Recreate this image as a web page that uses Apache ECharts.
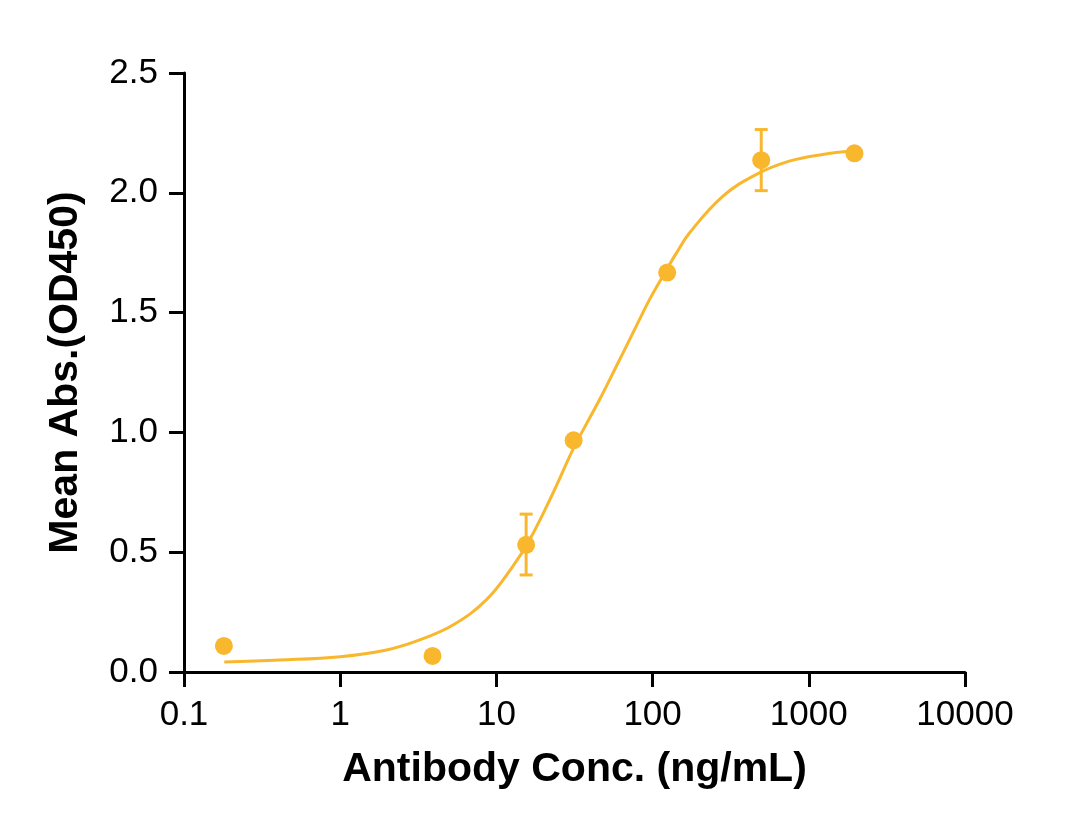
<!DOCTYPE html>
<html>
<head>
<meta charset="utf-8">
<script src="https://cdn.jsdelivr.net/npm/echarts@6/dist/echarts.min.js"></script>
<style>
  html, body { margin: 0; padding: 0; background: #fff; }
  #chart { width: 1088px; height: 837px; }
</style>
</head>
<body>
<div id="chart"></div>
<script>
// measured points (ng/mL, OD450)
var conc = [0.18, 3.9, 15.5, 31.2, 124, 496, 1960];
var meanAbs = [0.109, 0.067, 0.531, 0.967, 1.667, 2.136, 2.165];
var errLow = [null, null, 0.405, null, null, 2.009, null];
var errHigh = [null, null, 0.659, null, null, 2.264, null];

// fitted curve
var fitConc = [0.181, 0.411, 1.0, 1.98, 3.23, 5.27, 8.61, 12.7, 16.3, 23.0, 30.8, 36.6,
  45.7, 58.5, 74.7, 95.5, 116, 141, 172, 281, 459, 750, 1225, 1905];
var fitAbs = [0.042, 0.050, 0.064, 0.092, 0.134, 0.196, 0.301, 0.44, 0.551, 0.746, 0.927, 1.02,
  1.136, 1.275, 1.414, 1.554, 1.651, 1.745, 1.832, 1.985, 2.076, 2.132, 2.160, 2.174];

var xTicks = [0.1, 1, 10, 100, 1000, 10000];

var color = '#F9B72E';
var font = '"Liberation Sans", Arial, sans-serif';

var points = conc.map(function(c, i) { return [c, meanAbs[i]]; });
var fit = fitConc.map(function(c, i) { return [c, fitAbs[i]]; });
var bars = [];
conc.forEach(function(c, i) {
  if (errLow[i] != null) bars.push([c, errLow[i], errHigh[i]]);
});

var chart = echarts.init(document.getElementById('chart'));

chart.setOption({
  animation: false,
  grid: { left: 184, right: 123, top: 73, bottom: 165 },
  xAxis: {
    type: 'log',
    logBase: 10,
    min: xTicks[0],
    max: xTicks[xTicks.length - 1],
    name: 'Antibody Conc. (ng/mL)',
    nameLocation: 'middle',
    nameGap: 77,
    nameTextStyle: { fontFamily: font, fontSize: 41, fontWeight: 'bold', color: '#000' },
    axisLine: { lineStyle: { color: '#000', width: 3 } },
    axisTick: { length: 15, lineStyle: { color: '#000', width: 3 } },
    minorTick: { show: false },
    splitLine: { show: false },
    axisLabel: {
      margin: 26,
      fontFamily: font,
      fontSize: 35,
      color: '#000',
      formatter: function(v) { return String(+v.toPrecision(6)); }
    }
  },
  yAxis: {
    type: 'value',
    min: 0,
    max: 2.5,
    interval: 0.5,
    name: 'Mean Abs.(OD450)',
    nameLocation: 'middle',
    nameGap: 98,
    nameTextStyle: { fontFamily: font, fontSize: 41, fontWeight: 'bold', color: '#000' },
    axisLine: { show: true, lineStyle: { color: '#000', width: 3 } },
    axisTick: { show: true, length: 15, lineStyle: { color: '#000', width: 3 } },
    splitLine: { show: false },
    axisLabel: {
      margin: 26,
      fontFamily: font,
      fontSize: 35,
      color: '#000',
      formatter: function(v) { return v.toFixed(1); }
    }
  },
  series: [
    {
      name: 'fit',
      type: 'line',
      data: fit,
      smooth: 0.4,
      showSymbol: false,
      lineStyle: { color: color, width: 3 },
      z: 2
    },
    {
      name: 'error',
      type: 'custom',
      data: bars,
      renderItem: function(params, api) {
        var top = api.coord([api.value(0), api.value(2)]);
        var bot = api.coord([api.value(0), api.value(1)]);
        var w = 6.5;
        var st = { stroke: color, lineWidth: 3 };
        return {
          type: 'group',
          children: [
            { type: 'line', shape: { x1: top[0], y1: top[1], x2: bot[0], y2: bot[1] }, style: st },
            { type: 'line', shape: { x1: top[0] - w, y1: top[1], x2: top[0] + w, y2: top[1] }, style: st },
            { type: 'line', shape: { x1: bot[0] - w, y1: bot[1], x2: bot[0] + w, y2: bot[1] }, style: st }
          ]
        };
      },
      z: 3
    },
    {
      name: 'mean',
      type: 'scatter',
      data: points,
      symbol: 'circle',
      symbolSize: 18,
      itemStyle: { color: color, opacity: 1 },
      z: 4
    }
  ]
});
</script>
</body>
</html>
